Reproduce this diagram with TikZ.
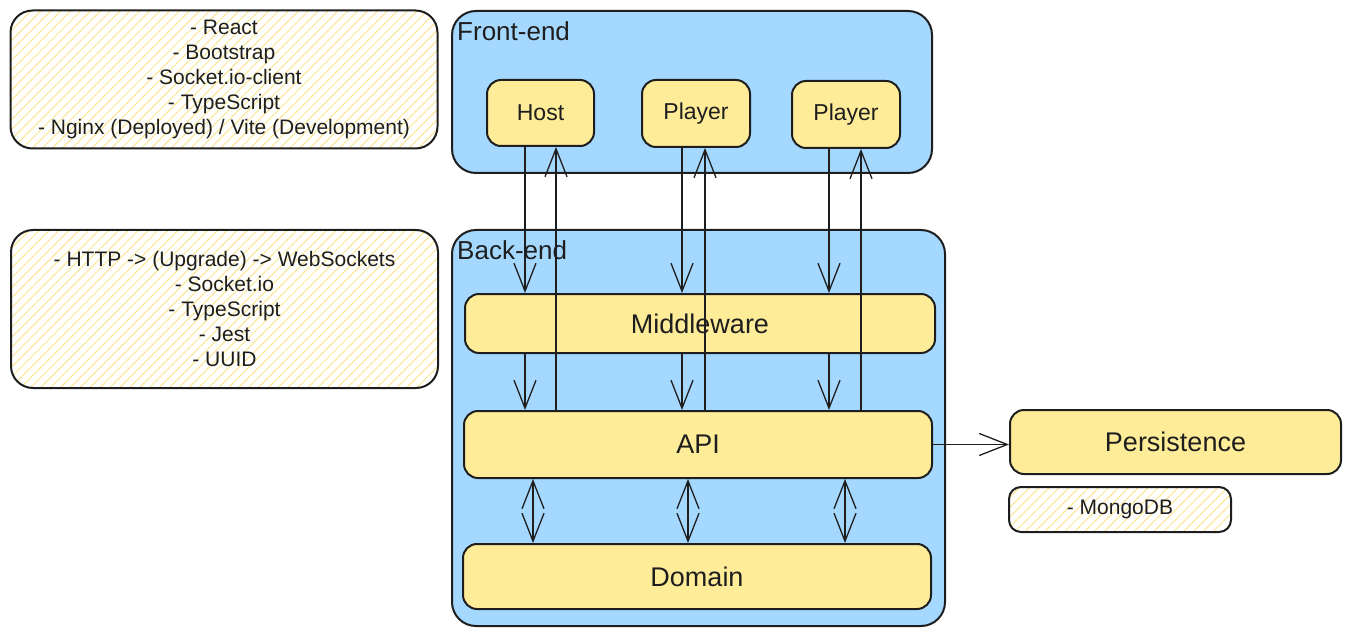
\documentclass[tikz,border=0pt]{standalone}
\usepackage{fontspec}
\setmainfont{Liberation Sans}
\usetikzlibrary{arrows.meta,patterns.meta}
\definecolor{fblue}{HTML}{A5D8FF}
\definecolor{fyellow}{HTML}{FFEC99}
\definecolor{hatchc}{HTML}{FBE690}
\definecolor{ink}{HTML}{1E1E1E}
\tikzset{
 container/.style={draw=ink, line width=2pt, fill=fblue, rounded corners=24pt, anchor=north west, inner sep=0pt},
 layer/.style={draw=ink, line width=2pt, fill=fyellow, rounded corners=14pt, anchor=north west, inner sep=0pt, text=ink, font=\fontsize{27}{32}\selectfont},
 client/.style={layer, font=\fontsize{23}{28}\selectfont},
 note/.style={draw=ink, line width=2pt, rounded corners=22pt, anchor=north west, inner sep=0pt, pattern={Lines[angle=45,distance=7pt,line width=1pt]}, pattern color=hatchc, align=center, text=ink, font=\fontsize{21}{25}\selectfont},
 title/.style={anchor=base west, inner sep=0pt, text=ink, font=\fontsize{26}{30}\selectfont},
 arr/.style={draw=ink, line width=1.3pt, -{Straight Barb[length=28pt,width=22pt]}},
 darr/.style={draw=ink, line width=1.3pt, {Straight Barb[length=28pt,width=22pt]}-{Straight Barb[length=28pt,width=22pt]}},
}
\begin{document}
\begin{tikzpicture}[x=1pt,y=-1pt]
\useasboundingbox (0,0) rectangle (1351,636);
% notes
\node[note, minimum width=427pt, minimum height=138pt] (n1) at (10,10) {- React\\- Bootstrap\\- Socket.io-client\\- TypeScript\\- Nginx (Deployed) / Vite (Development)};
\node[note, minimum width=427pt, minimum height=158pt] (n2) at (10,229) {- HTTP -> (Upgrade) -> WebSockets\\- Socket.io\\- TypeScript\\- Jest\\- UUID};
% containers
\node[container, minimum width=480pt, minimum height=162pt] (front) at (451,10) {};
\node[container, minimum width=493pt, minimum height=396pt] (back) at (451,229) {};
\node[title] (fetitle) at (457,41) {Front-end};
\node[title] (betitle) at (457,259) {Back-end};
% clients
\node[client, minimum width=107pt, minimum height=66pt] (host) at (486,79) {Host};
\node[client, minimum width=108pt, minimum height=67pt] (p1) at (641,79) {Player};
\node[client, minimum width=108pt, minimum height=67pt] (p2) at (791,80) {Player};
% layers
\node[layer, minimum width=470pt, minimum height=59pt] (mid) at (464,293) {Middleware};
\node[layer, minimum width=468pt, minimum height=67pt] (api) at (463,410) {API};
\node[layer, minimum width=468pt, minimum height=65pt] (dom) at (462,543) {Domain};
\node[layer, minimum width=331pt, minimum height=64pt] (pers) at (1009,409) {Persistence};
\node[note, rounded corners=12pt, minimum width=222pt, minimum height=45pt] (mongo) at (1008,486) {- MongoDB};
% arrow columns
\coordinate (d1) at (525,0);
\coordinate (u1) at (556,0);
\coordinate (d2) at (682,0);
\coordinate (u2) at (705,0);
\coordinate (d3) at (829,0);
\coordinate (u3) at (861,0);
\coordinate (b1) at (533,0);
\coordinate (b2) at (688,0);
\coordinate (b3) at (845,0);
% client -> middleware
\draw[arr] (host.south -| d1) -- (mid.north -| d1);
\draw[arr] (p1.south -| d2) -- (mid.north -| d2);
\draw[arr] (p2.south -| d3) -- (mid.north -| d3);
% middleware -> api
\draw[arr] (mid.south -| d1) -- (api.north -| d1);
\draw[arr] (mid.south -| d2) -- (api.north -| d2);
\draw[arr] (mid.south -| d3) -- (api.north -| d3);
% api -> clients
\draw[arr] (api.north -| u1) -- (host.south -| u1);
\draw[arr] (api.north -| u2) -- (p1.south -| u2);
\draw[arr] (api.north -| u3) -- (p2.south -| u3);
% api <-> domain
\draw[darr] (api.south -| b1) -- (dom.north -| b1);
\draw[darr] (api.south -| b2) -- (dom.north -| b2);
\draw[darr] (api.south -| b3) -- (dom.north -| b3);
% api -> persistence
\draw[arr] (api.east) -- (api.east -| pers.west);
\end{tikzpicture}
\end{document}
